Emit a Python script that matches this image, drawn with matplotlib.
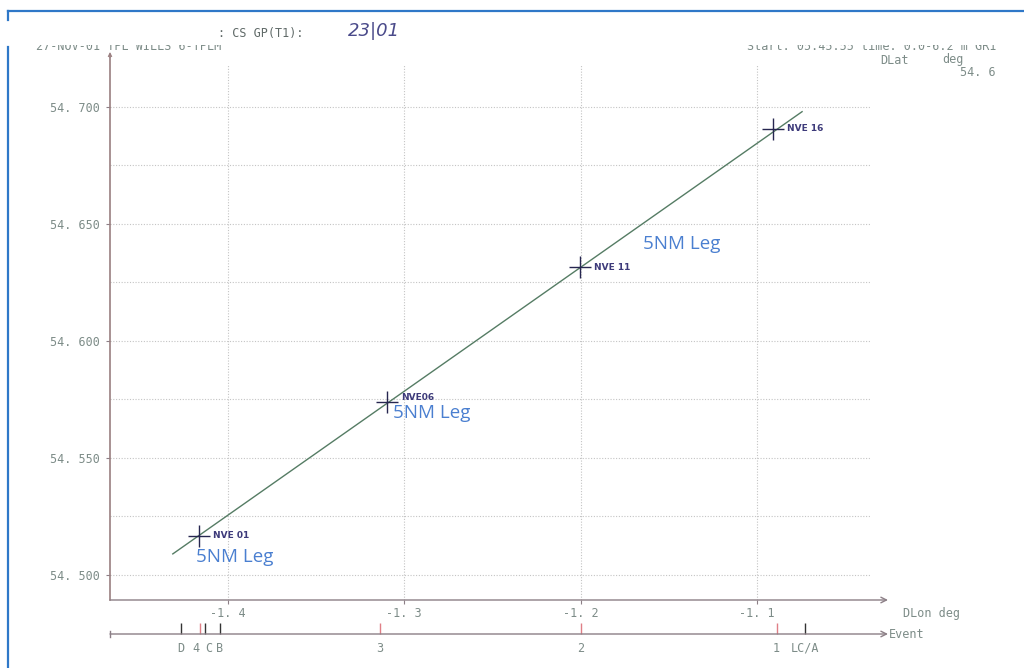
import matplotlib
matplotlib.use("Agg")
import matplotlib.pyplot as plt
from matplotlib.lines import Line2D
from matplotlib.patches import Rectangle

# ----- data -----
fix_lon = [-1.4164, -1.3099, -1.2006, -1.0912]
fix_lat = [54.5167, 54.5739, 54.6316, 54.6906]
fix_names = ["NVE 01", "NVE06", "NVE 11", "NVE 16"]

track_lon = [-1.4312, -1.0745]
track_lat = [54.5090, 54.6980]

x_ticks = [-1.4, -1.3, -1.2, -1.1]
x_tick_labels = ["-1. 4", "-1. 3", "-1. 2", "-1. 1"]
y_ticks = [54.500, 54.550, 54.600, 54.650, 54.700]
y_tick_labels = ["54. 500", "54. 550", "54. 600", "54. 650", "54. 700"]
y_minor = [54.525, 54.575, 54.625, 54.675]

event_lon = [-1.4266, -1.4159, -1.4130, -1.4045, -1.3139, -1.2000, -1.0890, -1.0731]
event_labels = ["D", "4", "C", "B", "3", "2", "1", "LC/A"]
event_red = [False, True, False, False, True, True, True, False]

leg_lon = [-1.4180, -1.3065, -1.1645]
leg_lat = [54.5077, 54.5692, 54.6415]

W, H = 1024, 668
MONO = "DejaVu Sans Mono"
TXT = "#7d8c88"
AXC = "#8c7f86"


def fx(x):
    return x / W


def fy(y):
    return 1 - y / H


fig = plt.figure(figsize=(W / 100, H / 100), dpi=100)
fig.patch.set_facecolor("white")

# main plot area: x 110..888 px, y 52..600 px
ax = fig.add_axes([fx(110), fy(600), (888 - 110) / W, (600 - 52) / H])
ax.set_xlim(-1.4668, -1.0258)
ax.set_ylim(54.4893, 54.7235)
ax.patch.set_visible(False)

for s in ["top", "right", "bottom"]:
    ax.spines[s].set_visible(False)
ax.spines["left"].set_color("#9a7f80")
ax.spines["left"].set_linewidth(1.2)
ax.spines["left"].set_bounds(54.4893, 54.7222)

# bottom axis with arrow
ax.annotate("", xy=(1.0, 0.0), xytext=(0.0, 0.0), xycoords="axes fraction",
            arrowprops=dict(arrowstyle="->", color=AXC, lw=1.0, shrinkA=0, shrinkB=0))
ax.annotate("", xy=(0.0, 1.0), xytext=(0.0, 0.99), xycoords="axes fraction",
            arrowprops=dict(arrowstyle="->", color="#9a7f80", lw=0.8, shrinkA=0, shrinkB=0,
                            mutation_scale=6))

# grid
grid_kw = dict(color="#c4c4c4", lw=0.8, ls=(0, (1, 1.5)), zorder=1)
for y in y_ticks + y_minor:
    ax.hlines(y, -1.4668, -1.036, **grid_kw)
for x in x_ticks:
    ax.vlines(x, 54.4893, 54.718, **grid_kw)

ax.set_xticks(x_ticks)
ax.set_xticklabels(x_tick_labels)
ax.set_yticks(y_ticks)
ax.set_yticklabels(y_tick_labels)
ax.tick_params(axis="both", colors=AXC, labelcolor=TXT, labelsize=8.5, length=3, width=0.8)
ax.tick_params(axis="x", pad=2)
ax.tick_params(axis="y", pad=4)
for lab in ax.get_xticklabels() + ax.get_yticklabels():
    lab.set_family(MONO)

# track and fixes
ax.plot(track_lon, track_lat, color="#557c64", lw=1.0, zorder=3)
ax.plot(fix_lon, fix_lat, ls="none", marker="+", ms=16, mew=1.0, color="#262650", zorder=4)
for lon, lat, name in zip(fix_lon, fix_lat, fix_names):
    dy = 3 if name == "NVE06" else 0
    ax.annotate(name, (lon, lat), xytext=(10, dy), textcoords="offset points",
                fontsize=6.5, fontweight="bold", color="#3d3a7a", va="center",
                family="DejaVu Sans", zorder=5)
for lon, lat in zip(leg_lon, leg_lat):
    ax.text(lon, lat, "5NM Leg", fontsize=13.5, color="#4a7fd0", family="Open Sans",
            va="center", ha="left", zorder=5)

# event strip: y 620..660 px
ev = fig.add_axes([fx(110), fy(660), (888 - 110) / W, 40 / H])
ev.set_xlim(ax.get_xlim())
ev.set_ylim(0, 1)
ev.axis("off")
ev.annotate("", xy=(1.0, 0.65), xytext=(0.0, 0.65), xycoords="axes fraction",
            arrowprops=dict(arrowstyle="->", color=AXC, lw=1.0, shrinkA=0, shrinkB=0))
ev.plot([0, 0], [0.57, 0.73], color=AXC, lw=1.0, transform=ev.transAxes, clip_on=False)
for lon, lab, red in zip(event_lon, event_labels, event_red):
    ev.vlines(lon, 0.65, 0.92, color="#e07f86" if red else "#333333", lw=1.0)
    # the "4" and "C" events sit almost on top of each other
    ha = {"4": "right", "C": "left"}.get(lab, "center")
    ev.text(lon, 0.3, lab, ha=ha, va="center", fontsize=8.5, family=MONO, color=TXT)

# header texts (top half hidden under the white mask, as in the scan)
fig.text(fx(36), fy(46), "27-NOV-01 TPL WILLS 6-TPLM", fontsize=8.5, family=MONO,
         color=TXT, va="center", zorder=1)
fig.text(fx(996), fy(47), "Start: 05:45:55 time: 0.0-6.2 m GR1", fontsize=8.5,
         family=MONO, color=TXT, va="center", ha="right", zorder=1)
fig.add_artist(Rectangle((fx(0), fy(45)), 1.0, (45 - 14) / H, transform=fig.transFigure,
                         facecolor="white", edgecolor="none", zorder=2))
fig.text(fx(218), fy(34), ": CS GP(T1):", fontsize=8.5, family=MONO, color="#606a68",
         va="center", zorder=3)
fig.text(fx(348), fy(31), "23|01", fontsize=13, color="#4a4a8a", va="center",
         family="DejaVu Sans", style="italic", zorder=3)
fig.text(fx(880), fy(60), "DLat", fontsize=8.5, family=MONO, color=TXT, va="center")
fig.text(fx(942), fy(60), "deg", fontsize=8.5, family=MONO, color=TXT, va="center")
fig.text(fx(996), fy(73), "54. 6", fontsize=8.5, family=MONO, color=TXT, va="center",
         ha="right")
fig.text(fx(903), fy(614), "DLon deg", fontsize=8.5, family=MONO, color=TXT, va="center")
fig.text(fx(889), fy(635), "Event", fontsize=8.5, family=MONO, color=TXT, va="center")

# blue frame
blue = "#2f78c8"
fig.add_artist(Line2D([fx(8), 1.0], [fy(11), fy(11)], color=blue, lw=1.6,
                      transform=fig.transFigure, zorder=4))
fig.add_artist(Line2D([fx(8), fx(8)], [fy(11), fy(20)], color=blue, lw=1.6,
                      transform=fig.transFigure, zorder=4))
fig.add_artist(Line2D([fx(8), fx(8)], [fy(47), 0.0], color=blue, lw=1.6,
                      transform=fig.transFigure, zorder=4))

fig.savefig("out.png", dpi=100, facecolor="white")
